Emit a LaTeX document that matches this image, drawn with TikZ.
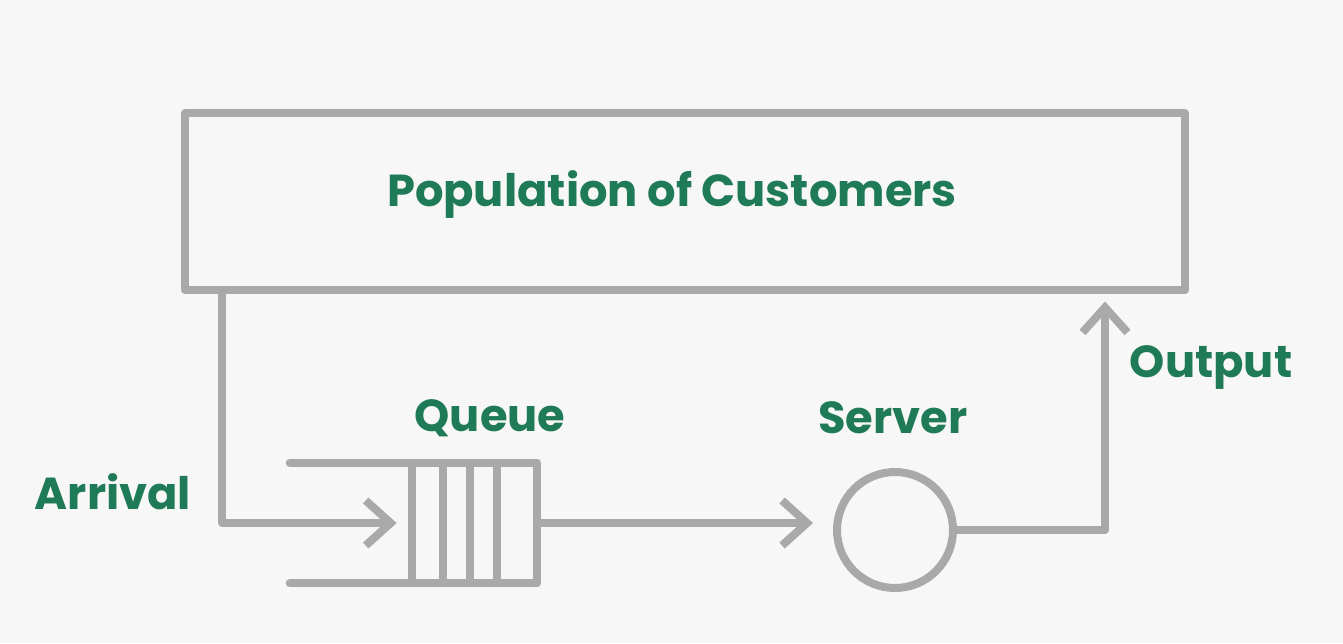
\documentclass[tikz,border=0pt]{standalone}
\usepackage{fontspec}
\setmainfont{Poppins}
\usetikzlibrary{arrows.meta,calc}
\definecolor{ln}{HTML}{A9A9A9}
\definecolor{tx}{HTML}{1F7A57}
\definecolor{bg}{HTML}{F7F7F7}
\begin{document}
\begin{tikzpicture}[x=0.02cm,y=-0.02cm,
  conn/.style={draw=ln,line width=0.16cm,line cap=round,line join=round},
  lbl/.style={text=tx,font=\fontsize{25.5}{30}\selectfont\bfseries,inner sep=0pt},
  tip/.style={-{Straight Barb[length=0.5cm,width=0.9cm]}}]
\fill[bg] (0,0) rectangle (1343,643);
\useasboundingbox (0,0) rectangle (1343,643);
% population box
\node[conn,draw,minimum width=20cm,minimum height=3.54cm,inner sep=0pt,line cap=butt] (pop) at (685,201.5) {};
\node[lbl] (poptext) at (672,195) {Population of Customers};
% labels
\node[lbl] (qlbl) at (490,418) {Queue};
\node[lbl] (slbl) at (893,418) {Server};
\node[lbl] (albl) at (113,492) {Arrival};
\node[lbl] (olbl) at (1211,368) {Output};
% queue
\node[minimum width=2.5cm,minimum height=2.4cm,inner sep=0pt] (queue) at (474.5,523) {};
\draw[conn] ([xshift=-2.44cm]queue.north west) -- (queue.north east) -- (queue.south east) -- ([xshift=-2.44cm]queue.south west);
\foreach \f in {0,0.248,0.464,0.68}
  \draw[conn,line cap=butt] ($(queue.north west)!\f!(queue.north east)$) -- ($(queue.south west)!\f!(queue.south east)$);
% server
\node[conn,draw,circle,minimum size=2.32cm,inner sep=0pt] (server) at (895,530) {};
% connectors
\coordinate (ac) at (222,0);
\coordinate (oc) at (1105,0);
\draw[conn,tip,shorten >=0.3cm] (pop.south -| ac) |- (queue.west);
\draw[conn,tip,shorten >=0.4cm] (queue.east) -- (queue.east -| server.west);
\draw[conn,tip,shorten >=0.15cm] (server.east) -| (pop.south -| oc);
\end{tikzpicture}
\end{document}
